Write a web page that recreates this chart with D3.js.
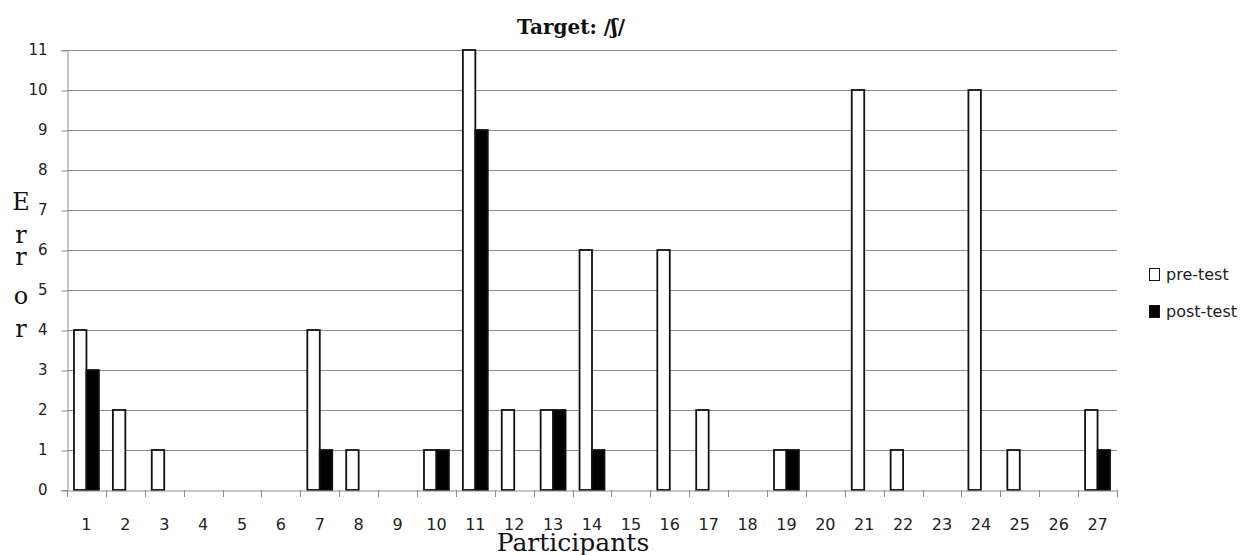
<!DOCTYPE html>
<html>
<head>
<meta charset="utf-8">
<script src="https://cdn.jsdelivr.net/npm/d3@7"></script>
<style>
  body { margin: 0; background: #fff; }
  svg { display: block; }
</style>
</head>
<body>
<svg id="chart" width="1244" height="555"></svg>
<script>
// Error counts per participant, before and after training
const participants = ["1","2","3","4","5","6","7","8","9","10","11","12","13","14","15","16","17","18","19","20","21","22","23","24","25","26","27"];
const preTest  = [4,2,1,0,0,0,4,1,0,1,11,2,2,6,0,6,2,0,1,0,10,1,0,10,1,0,2];
const postTest = [3,0,0,0,0,0,1,0,0,1,9,0,2,1,0,0,0,0,1,0,0,0,0,0,0,0,1];
const yTicks = [0,1,2,3,4,5,6,7,8,9,10,11];
const seriesNames = ["pre-test","post-test"];
const seriesFill = ["#ffffff","#000000"];

const svg = d3.select("#chart");
const plot = { left: 67, right: 1117, top: 50, bottom: 490 };

const x = d3.scaleBand().domain(participants).range([plot.left, plot.right]).paddingInner(0).paddingOuter(0);
const y = d3.scaleLinear().domain([0, 11]).range([plot.bottom, plot.top]);
const sub = d3.scaleBand().domain(seriesNames).range([0, x.bandwidth()]).paddingInner(0).paddingOuter(0.56);

// horizontal gridlines
svg.append("g")
  .selectAll("line")
  .data(yTicks.filter(d => d > 0))
  .join("line")
  .attr("x1", plot.left).attr("x2", plot.right)
  .attr("y1", d => y(d) + 0.5).attr("y2", d => y(d) + 0.5)
  .attr("stroke", "#8c8c8c").attr("stroke-width", 1);

// y axis
const yAxis = svg.append("g")
  .attr("transform", `translate(${plot.left + 0.5},0)`)
  .call(d3.axisLeft(y).tickValues(yTicks).tickSize(6).tickPadding(14));
yAxis.select(".domain").attr("stroke", "#8c8c8c");
yAxis.selectAll(".tick line").attr("stroke", "#8c8c8c").attr("transform", "translate(0,0.5)");
yAxis.selectAll(".tick text")
  .attr("fill", "#222").attr("font-family", "DejaVu Sans, Verdana, sans-serif").attr("font-size", 15);

// bars
const groups = svg.append("g").selectAll("g")
  .data(participants)
  .join("g")
  .attr("transform", d => `translate(${x(d)},0)`);

groups.selectAll("rect")
  .data((d, i) => [
    { s: seriesNames[0], v: preTest[i], f: seriesFill[0] },
    { s: seriesNames[1], v: postTest[i], f: seriesFill[1] }
  ].filter(e => e.v > 0))
  .join("rect")
  .attr("x", e => sub(e.s))
  .attr("y", e => y(e.v))
  .attr("width", sub.bandwidth())
  .attr("height", e => y(0) - y(e.v))
  .attr("fill", e => e.f)
  .attr("stroke", "#111")
  .attr("stroke-width", 1.8);

// x axis baseline and category separators
const xAxis = svg.append("g")
  .attr("transform", `translate(0,${plot.bottom + 0.5})`)
  .call(d3.axisBottom(x).tickSize(0).tickPadding(28));
xAxis.select(".domain").attr("stroke", "#8c8c8c");
xAxis.selectAll(".tick text")
  .attr("fill", "#222").attr("font-family", "DejaVu Sans, Verdana, sans-serif").attr("font-size", 16);
svg.append("g")
  .selectAll("line")
  .data(participants.map(p => x(p)).concat([plot.right]))
  .join("line")
  .attr("x1", d => Math.round(d) + 0.5).attr("x2", d => Math.round(d) + 0.5)
  .attr("y1", plot.bottom).attr("y2", plot.bottom + 7)
  .attr("stroke", "#8c8c8c");

// title
svg.append("text")
  .attr("x", 571).attr("y", 34)
  .attr("text-anchor", "middle")
  .attr("font-family", "DejaVu Serif, serif")
  .attr("font-weight", "bold")
  .attr("font-size", 20)
  .attr("fill", "#111")
  .text("Target: /ʃ/");

// stacked y-axis title
const yTitle = ["E","r","r","o","r"];
const yTitleBase = [210, 243, 265, 304, 337];
svg.append("g").selectAll("text")
  .data(yTitle)
  .join("text")
  .attr("x", 21).attr("y", (d, i) => yTitleBase[i])
  .attr("text-anchor", "middle")
  .attr("font-family", "DejaVu Serif, serif")
  .attr("font-size", 24)
  .attr("fill", "#111")
  .text(d => d);

// x-axis title
svg.append("text")
  .attr("x", 573).attr("y", 551)
  .attr("text-anchor", "middle")
  .attr("font-family", "DejaVu Serif, serif")
  .attr("font-size", 25)
  .attr("fill", "#111")
  .text("Participants");

// legend
const legend = svg.append("g").selectAll("g")
  .data(seriesNames)
  .join("g")
  .attr("transform", (d, i) => `translate(1149,${268 + i * 37})`);
legend.append("rect")
  .attr("x", 0.5).attr("y", 0.5).attr("width", 10).attr("height", 12)
  .attr("fill", (d, i) => seriesFill[i])
  .attr("stroke", "#111");
legend.append("text")
  .attr("x", 17).attr("y", 12)
  .attr("font-family", "DejaVu Sans, Verdana, sans-serif")
  .attr("font-size", 16)
  .attr("fill", "#222")
  .text(d => d);
</script>
</body>
</html>
